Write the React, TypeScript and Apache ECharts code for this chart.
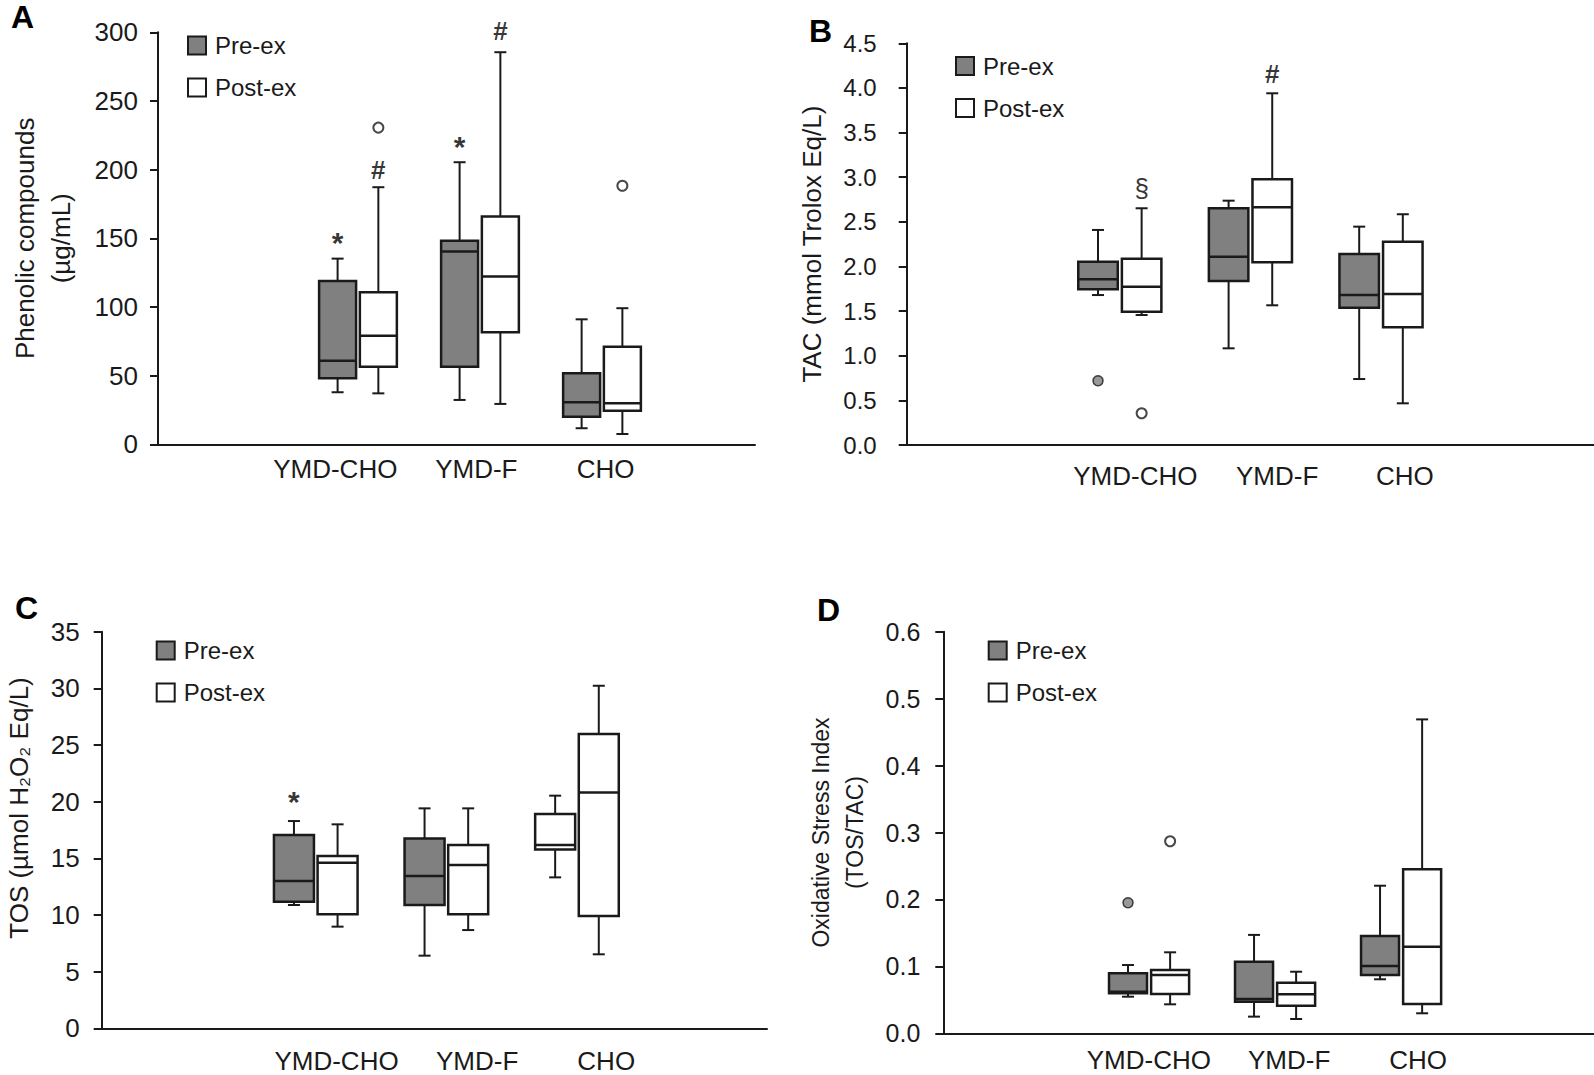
import React, { useEffect, useRef } from "react";
import * as echarts from "echarts";

// ---------- data ----------
const groups = ["YMD-CHO", "YMD-F", "CHO"];

// each row: [min, Q1, median, Q3, max] for YMD-CHO, YMD-F, CHO
const phenolPre = [
  [37.9, 48.1, 60.9, 118.9, 135.2],
  [32.3, 56.5, 140.3, 148.3, 205.4],
  [11.7, 20.1, 30.6, 51.7, 91.0],
];
const phenolPost = [
  [37.1, 56.5, 79.1, 110.7, 187.2],
  [29.4, 81.6, 122.1, 165.8, 285.5],
  [7.5, 24.5, 29.9, 71.1, 99.1],
];
const phenolOutPre: number[][] = [];
const phenolOutPost = [
  [0, 230.6],
  [2, 188.3],
];
// [group, side(0 pre / 1 post), value, symbol]
const phenolMarks: [number, number, number, string][] = [
  [0, 0, 147, "*"],
  [0, 1, 200, "#"],
  [1, 0, 217, "*"],
  [1, 1, 301, "#"],
];

const tacPre = [
  [1.68, 1.744, 1.856, 2.054, 2.409],
  [1.083, 1.837, 2.11, 2.652, 2.737],
  [0.739, 1.538, 1.68, 2.14, 2.446],
];
const tacPost = [
  [1.456, 1.494, 1.774, 2.087, 2.652],
  [1.565, 2.047, 2.663, 2.977, 3.94],
  [0.467, 1.319, 1.692, 2.278, 2.585],
];
const tacOutPre = [[0, 0.72]];
const tacOutPost = [[0, 0.355]];
const tacMarks: [number, number, number, string][] = [
  [0, 1, 2.88, "§"],
  [1, 1, 4.16, "#"],
];

const tosPre = [
  [10.88, 11.17, 13.0, 17.06, 18.29],
  [6.41, 10.88, 13.44, 16.76, 19.41],
  [13.32, 15.79, 16.17, 18.91, 20.53],
];
const tosPost = [
  [8.97, 10.06, 14.61, 15.2, 18.0],
  [8.67, 10.06, 14.41, 16.17, 19.41],
  [6.53, 9.91, 20.82, 25.97, 30.23],
];
const tosOutPre: number[][] = [];
const tosOutPost: number[][] = [];
const tosMarks: [number, number, number, string][] = [[0, 0, 20, "*"]];

const osiPre = [
  [0.0547, 0.0598, 0.0622, 0.0896, 0.102],
  [0.0249, 0.0473, 0.0512, 0.107, 0.147],
  [0.0807, 0.0871, 0.1005, 0.1454, 0.2205],
];
const osiPost = [
  [0.0433, 0.0587, 0.087, 0.0946, 0.121],
  [0.0214, 0.0413, 0.0583, 0.0756, 0.092],
  [0.0299, 0.0438, 0.1294, 0.245, 0.469],
];
const osiOutPre = [[0, 0.195]];
const osiOutPost = [[0, 0.287]];
const osiMarks: [number, number, number, string][] = [];

// ---------- styling / layout ----------
const INK = "#1a1a1a";
const GRAY = "#808080";
const WHITE = "#ffffff";
const FONT = "'Liberation Sans', Arial, Helvetica, sans-serif";
const SIDE = 0.167;

type Panel = {
  letter: string;
  letterPos: [number, number];
  grid: { left: number; top: number; width: number; height: number };
  xMin: number;
  xMax: number;
  labelPos: number[];
  labelMargin: number;
  yMax: number;
  yStep: number;
  decimals: number;
  tickFont: number;
  tickMargin: number;
  name: string;
  nameFont: number;
  nameLineHeight: number;
  nameGap: number;
  namePadding?: number[];
  legend: [number, number];
  boxW: number;
  pre: number[][];
  post: number[][];
  outPre: number[][];
  outPost: number[][];
  marks: [number, number, number, string][];
  whitePre: number[];
};

const panels: Panel[] = [
  {
    letter: "A",
    letterPos: [11, 17],
    grid: { left: 158, top: 32.3, width: 597, height: 412 },
    xMin: -1.639,
    xMax: 3.254,
    labelPos: [-0.186, 0.97, 2.029],
    labelMargin: 14,
    yMax: 300,
    yStep: 50,
    decimals: 0,
    tickFont: 26,
    tickMargin: 20,
    name: "Phenolic compounds\n(µg/mL)",
    nameFont: 26,
    nameLineHeight: 36,
    nameGap: 79,
    legend: [182, 28.5],
    boxW: 37,
    pre: phenolPre,
    post: phenolPost,
    outPre: phenolOutPre,
    outPost: phenolOutPost,
    marks: phenolMarks,
    whitePre: [],
  },
  {
    letter: "B",
    letterPos: [809, 31],
    grid: { left: 906.7, top: 43.3, width: 687.3, height: 401.7 },
    xMin: -1.632,
    xMax: 3.631,
    labelPos: [0.119, 1.205, 2.182],
    labelMargin: 20,
    yMax: 4.5,
    yStep: 0.5,
    decimals: 1,
    tickFont: 24,
    tickMargin: 30,
    name: "TAC (mmol Trolox Eq/L)",
    nameFont: 26,
    nameLineHeight: 30,
    nameGap: 80,
    legend: [950, 49],
    boxW: 39.5,
    pre: tacPre,
    post: tacPost,
    outPre: tacOutPre,
    outPost: tacOutPost,
    marks: tacMarks,
    whitePre: [],
  },
  {
    letter: "C",
    letterPos: [15, 608],
    grid: { left: 101.7, top: 631.7, width: 665.3, height: 396.6 },
    xMin: -1.639,
    xMax: 3.455,
    labelPos: [0.159, 1.236, 2.224],
    labelMargin: 22,
    yMax: 35,
    yStep: 5,
    decimals: 0,
    tickFont: 26,
    tickMargin: 22,
    name: "TOS (µmol H₂O₂ Eq/L)",
    nameFont: 26,
    nameLineHeight: 30,
    nameGap: 68,
    namePadding: [0, 0, 0, 44],
    legend: [150.7, 633.5],
    boxW: 40,
    pre: tosPre,
    post: tosPost,
    outPre: tosOutPre,
    outPost: tosOutPost,
    marks: tosMarks,
    whitePre: [2],
  },
  {
    letter: "D",
    letterPos: [817, 610],
    grid: { left: 943.3, top: 631.7, width: 650.7, height: 401.6 },
    xMin: -1.633,
    xMax: 3.531,
    labelPos: [-0.002, 1.112, 2.135],
    labelMargin: 16,
    yMax: 0.6,
    yStep: 0.1,
    decimals: 1,
    tickFont: 25,
    tickMargin: 23,
    name: "Oxidative Stress Index\n(TOS/TAC)",
    nameFont: 23,
    nameLineHeight: 34,
    nameGap: 71,
    legend: [982.7, 633.5],
    boxW: 38,
    pre: osiPre,
    post: osiPost,
    outPre: osiOutPre,
    outPost: osiOutPost,
    marks: osiMarks,
    whitePre: [],
  },
];

function makeRenderItem(boxW: number, capW: number) {
  return (params: any, api: any) => {
    const x = api.value(0);
    const pMin = api.coord([x, api.value(1)]);
    const pQ1 = api.coord([x, api.value(2)]);
    const pMed = api.coord([x, api.value(3)]);
    const pQ3 = api.coord([x, api.value(4)]);
    const pMax = api.coord([x, api.value(5)]);
    const cx = pMed[0];
    const fill = api.visual("color");
    const ls = { stroke: INK, lineWidth: 2 };
    return {
      type: "group",
      children: [
        { type: "line", shape: { x1: cx, y1: pQ3[1], x2: cx, y2: pMax[1] }, style: ls },
        { type: "line", shape: { x1: cx, y1: pQ1[1], x2: cx, y2: pMin[1] }, style: ls },
        { type: "line", shape: { x1: cx - capW / 2, y1: pMax[1], x2: cx + capW / 2, y2: pMax[1] }, style: ls },
        { type: "line", shape: { x1: cx - capW / 2, y1: pMin[1], x2: cx + capW / 2, y2: pMin[1] }, style: ls },
        {
          type: "rect",
          shape: { x: cx - boxW / 2, y: pQ3[1], width: boxW, height: pQ1[1] - pQ3[1] },
          style: { fill, stroke: INK, lineWidth: 2.5 },
        },
        {
          type: "line",
          shape: { x1: cx - boxW / 2, y1: pMed[1], x2: cx + boxW / 2, y2: pMed[1] },
          style: { stroke: INK, lineWidth: 2.5 },
        },
      ],
    };
  };
}

function buildOption() {
  const grid: any[] = [];
  const xAxis: any[] = [];
  const yAxis: any[] = [];
  const series: any[] = [];
  const legend: any[] = [];
  const graphic: any[] = [];

  panels.forEach((p, i) => {
    grid.push({ ...p.grid, containLabel: false });
    xAxis.push({
      gridIndex: i,
      type: "value",
      min: p.xMin,
      max: p.xMax,
      axisLine: { show: true, onZero: false, lineStyle: { color: INK, width: 2 } },
      axisTick: { show: false },
      splitLine: { show: false },
      axisLabel: {
        show: true,
        customValues: p.labelPos,
        margin: p.labelMargin,
        fontSize: 26,
        lineHeight: 22,
        fontFamily: FONT,
        color: INK,
        formatter: (v: number) => {
          let best = 0;
          p.labelPos.forEach((lp, k) => {
            if (Math.abs(lp - v) < Math.abs(p.labelPos[best] - v)) best = k;
          });
          return groups[best];
        },
      },
    });
    yAxis.push({
      gridIndex: i,
      type: "value",
      min: 0,
      max: p.yMax,
      interval: p.yStep,
      axisLine: { show: true, onZero: false, lineStyle: { color: INK, width: 2 } },
      axisTick: { show: true, length: 8, lineStyle: { color: INK, width: 2 } },
      splitLine: { show: false },
      axisLabel: {
        fontSize: p.tickFont,
        fontFamily: FONT,
        color: INK,
        margin: p.tickMargin,
        formatter: (v: number) => v.toFixed(p.decimals),
      },
      name: p.name,
      nameLocation: "middle",
      nameGap: p.nameGap,
      nameTextStyle: {
        fontSize: p.nameFont,
        lineHeight: p.nameLineHeight,
        fontFamily: FONT,
        color: INK,
        padding: p.namePadding || 0,
      },
    });

    const preData = p.pre.map((r, g) => {
      const value = [g - SIDE, ...r];
      return p.whitePre.includes(g) ? { value, itemStyle: { color: WHITE } } : value;
    });
    const postData = p.post.map((r, g) => [g + SIDE, ...r]);

    series.push({
      type: "custom",
      name: "Pre-ex",
      xAxisIndex: i,
      yAxisIndex: i,
      itemStyle: { color: GRAY, borderColor: INK, borderWidth: 2 },
      encode: { x: 0, y: [1, 2, 3, 4, 5] },
      renderItem: makeRenderItem(p.boxW, 12),
      data: preData,
      z: 2,
    });
    series.push({
      type: "custom",
      name: "Post-ex",
      xAxisIndex: i,
      yAxisIndex: i,
      itemStyle: { color: WHITE, borderColor: INK, borderWidth: 2 },
      encode: { x: 0, y: [1, 2, 3, 4, 5] },
      renderItem: makeRenderItem(p.boxW, 12),
      data: postData,
      z: 2,
    });
    series.push({
      type: "scatter",
      name: "outPre" + i,
      xAxisIndex: i,
      yAxisIndex: i,
      symbol: "circle",
      symbolSize: 10,
      itemStyle: { color: GRAY, borderColor: INK, borderWidth: 1.5 },
      data: p.outPre.map((o) => [o[0] - SIDE, o[1]]),
      z: 3,
    });
    series.push({
      type: "scatter",
      name: "outPost" + i,
      xAxisIndex: i,
      yAxisIndex: i,
      symbol: "circle",
      symbolSize: 10,
      itemStyle: { color: WHITE, borderColor: INK, borderWidth: 2 },
      data: p.outPost.map((o) => [o[0] + SIDE, o[1]]),
      z: 3,
    });
    series.push({
      type: "scatter",
      name: "marks" + i,
      xAxisIndex: i,
      yAxisIndex: i,
      clip: false,
      symbol: "circle",
      symbolSize: 1,
      itemStyle: { color: "rgba(0,0,0,0)" },
      label: {
        show: true,
        position: "inside",
        formatter: "{b}",
        fontFamily: FONT,
        fontSize: 26,
        color: "#000",
      },
      data: p.marks.map((m) => ({
        name: m[3],
        value: [m[0] + (m[1] === 0 ? -SIDE : SIDE), m[2]],
        label:
          m[3] === "*"
            ? { fontWeight: "bold", fontSize: 30 }
            : m[3] === "#"
            ? { fontWeight: "bold", fontSize: 26 }
            : {},
      })),
      z: 4,
    });

    legend.push({
      orient: "vertical",
      left: p.legend[0],
      top: p.legend[1],
      itemWidth: 18,
      itemHeight: 18,
      itemGap: 18,
      selectedMode: false,
      textStyle: { fontSize: 24, lineHeight: 24, color: INK, fontFamily: FONT, padding: [0, 0, 0, 4] },
      data: [
        { name: "Pre-ex", icon: "rect", itemStyle: { color: GRAY, borderColor: INK, borderWidth: 2 } },
        { name: "Post-ex", icon: "rect", itemStyle: { color: WHITE, borderColor: INK, borderWidth: 2 } },
      ],
    });

    graphic.push({
      type: "text",
      x: p.letterPos[0],
      y: p.letterPos[1],
      style: {
        text: p.letter,
        fill: "#000",
        font: `bold 32px ${FONT}`,
        align: "left",
        verticalAlign: "middle",
        textAlign: "left",
        textVerticalAlign: "middle",
      },
    });
  });

  return {
    animation: false,
    backgroundColor: "#ffffff",
    textStyle: { fontFamily: FONT },
    grid,
    xAxis,
    yAxis,
    series,
    legend,
    graphic,
  };
}

export default function App() {
  const ref = useRef<HTMLDivElement>(null);
  useEffect(() => {
    if (!ref.current) return;
    const chart = echarts.init(ref.current, undefined, { renderer: "svg" });
    chart.setOption(buildOption() as any);
    return () => chart.dispose();
  }, []);
  return (
    <div
      ref={ref}
      style={{ position: "absolute", left: 0, top: 0, width: 1594, height: 1075, background: "#fff" }}
    />
  );
}
